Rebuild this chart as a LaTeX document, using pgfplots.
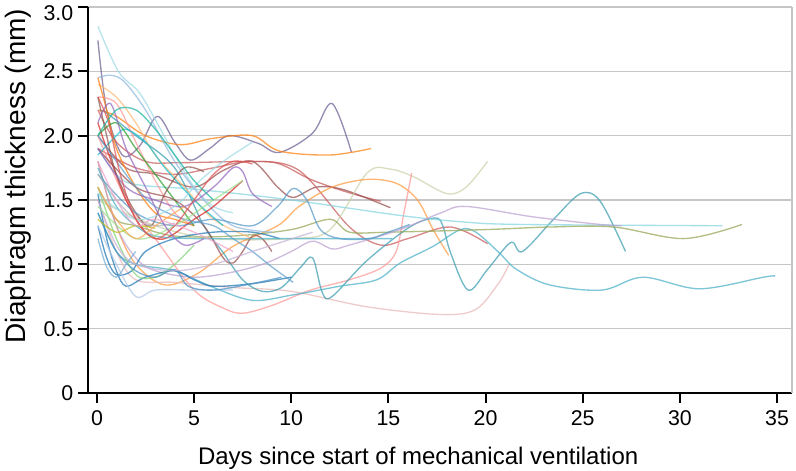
\documentclass[border=0pt]{standalone}
\usepackage{pgfplots}
\pgfplotsset{compat=1.18}
\usetikzlibrary{calc}
\usepackage{fontspec}
\setmainfont{Liberation Sans}
\definecolor{cblue}{HTML}{1F77B4}
\definecolor{corange}{HTML}{FF7F0E}
\definecolor{cgreen}{HTML}{2CA02C}
\definecolor{cred}{HTML}{D62728}
\definecolor{cpurple}{HTML}{9467BD}
\definecolor{cbrown}{HTML}{8C564B}
\definecolor{cpink}{HTML}{E377C2}
\definecolor{cgray}{HTML}{7F7F7F}
\definecolor{colive}{HTML}{BCBD22}
\definecolor{ccyan}{HTML}{17BECF}
\definecolor{lblue}{HTML}{AEC7E8}
\definecolor{lorange}{HTML}{FFBB78}
\definecolor{lgreen}{HTML}{98DF8A}
\definecolor{lred}{HTML}{FF9896}
\definecolor{lpurple}{HTML}{C5B0D5}
\definecolor{lpink}{HTML}{F7B6D2}
\definecolor{lcyan}{HTML}{9EDAE5}
\definecolor{dpurple}{HTML}{6E5F93}
\definecolor{teal1}{HTML}{3A9CB0}
\definecolor{teal2}{HTML}{4BB0C8}
\definecolor{beige}{HTML}{C8D2A8}
\definecolor{oliveg}{HTML}{93A656}
\definecolor{palepink}{HTML}{E8B8B8}
\definecolor{redb}{HTML}{C85A5A}
\definecolor{brownr}{HTML}{9A4E4E}
\begin{document}
\begin{tikzpicture}
\begin{axis}[
  name=ax,
  scale only axis,
  width=528pt, height=289.5pt,
  xmin=-0.46, xmax=35.77, ymin=0, ymax=3.0,
  axis x line*=bottom, axis y line*=left,
  axis line style={line width=1.5pt, black},
  xtick={0,5,...,35},
  ytick={0,0.5,1.0,1.5,2.0,2.5,3.0},
  yticklabels={0,0.5,1.0,1.5,2.0,2.5,\raisebox{-10pt}[0pt][0pt]{3.0}},
  tick align=outside,
  major tick length=7.5pt,
  tick style={line width=1.5pt, black},
  ymajorgrids,
  grid style={gray!45, line width=1.2pt},
  /pgf/number format/assume math mode=true,
  tick label style={font=\fontsize{16}{19}\selectfont},
  xticklabel style={yshift=-2pt},
  xlabel={Days since start of mechanical ventilation},
  ylabel={Diaphragm thickness (mm)},
  xlabel style={font=\fontsize{18}{21}\selectfont, at={(rel axis cs:0.469,0)}, anchor=base, yshift=-53.25pt},
  ylabel style={font=\fontsize{21}{25}\selectfont, at={(rel axis cs:0,0.562)}, anchor=base, yshift=47pt},
  every axis plot/.append style={line width=1pt, opacity=0.72, smooth, tension=0.55, no markers},
  clip=false,
]
% long / distinct trajectories
\addplot[dpurple] coordinates {(0.05,2.74) (0.5,2.2) (1.3,1.85) (2.2,1.92) (3.1,2.15) (4,1.95) (4.8,1.81) (5.8,1.9) (6.8,2.0) (8.3,1.94) (9.4,1.87) (11.1,2.02) (12.1,2.25) (13.1,1.87)};
\addplot[corange] coordinates {(0.1,2.2) (1,2.15) (2.5,2.0) (4.3,1.93) (6,1.98) (8,2.0) (9.4,1.88) (12,1.85) (14.1,1.9)};
\addplot[redb] coordinates {(0.05,2.2) (1,1.95) (2.5,1.8) (4.3,1.79) (8,1.8) (9.4,1.78) (11,1.66) (12.9,1.56) (14.6,1.49)};
\addplot[brownr] coordinates {(0.05,2.0) (1.5,1.75) (3,1.7) (5,1.6) (6.5,1.73) (8,1.8) (9.3,1.6) (10.1,1.52) (11.3,1.6) (12.7,1.58) (15.1,1.44)};
\addplot[redb] coordinates {(0.05,1.9) (2,1.75) (4,1.7) (6,1.75) (8,1.8) (10.4,1.73) (13,1.29) (14.6,1.15) (16,1.2) (18.2,1.29) (20.1,1.16)};
\addplot[beige] coordinates {(0.05,1.5) (3,1.3) (6,1.2) (10,1.2) (12,1.27) (13.9,1.71) (15.1,1.74) (16.3,1.68) (18,1.55) (19,1.6) (20.1,1.8)};
\addplot[corange!80] coordinates {(0.05,1.8) (1,1.3) (2,1.0) (3.5,0.84) (5.2,0.93) (7,1.14) (9.3,1.3) (10.4,1.45) (12.1,1.6) (13.9,1.66) (15.4,1.63) (16.5,1.5) (17.3,1.27) (18.1,1.07)};
\addplot[lred] coordinates {(0.05,2.0) (1.5,1.5) (3,1.2) (5,0.8) (6.5,0.66) (7.5,0.62) (9,0.68) (11,0.8) (13,0.88) (14.6,0.97) (15.4,1.1) (15.8,1.4) (16.2,1.71)};
\addplot[palepink] coordinates {(0.05,1.5) (1,1.1) (2,0.88) (4,0.86) (7,0.82) (10,0.79) (13.9,0.67) (17.7,0.61) (19.5,0.65) (20.7,0.86) (21.2,1.0)};
\addplot[teal1] coordinates {(0.3,2.2) (2,2.0) (4,1.75) (5.5,1.3) (6.5,1.09) (7.5,0.88) (8.5,0.79) (9.5,0.82) (10.5,0.98) (11.1,1.05) (11.6,0.78) (12.1,0.75) (13.9,1.03) (16.1,1.29) (17.4,1.36) (17.8,1.3) (18.2,1.09) (19.1,0.8) (20.1,0.96) (21.3,1.17) (21.9,1.1) (23.5,1.35) (24.9,1.55) (25.9,1.49) (27.2,1.1)};
\addplot[teal2] coordinates {(0.05,1.4) (1,1.1) (2,1.0) (4,0.95) (6,0.82) (8,0.72) (10,0.76) (12.5,0.83) (14.4,0.88) (15.6,1.01) (17.3,1.14) (18.7,1.27) (19.5,1.25) (20.7,1.09) (21.6,0.96) (23.3,0.84) (26,0.8) (28.1,0.9) (31,0.81) (34.3,0.9) (34.9,0.91)};
\addplot[lcyan!80!ccyan] coordinates {(0.05,1.9) (1,1.7) (2,1.62) (5.3,1.58) (10,1.5) (15.6,1.38) (18.8,1.33) (21.8,1.31) (32.2,1.3)};
\addplot[oliveg] coordinates {(0.05,1.6) (1,1.35) (2,1.3) (4,1.22) (7,1.22) (10,1.27) (12,1.35) (13,1.25) (15,1.25) (20,1.27) (23.3,1.29) (26.6,1.29) (30.2,1.2) (33.2,1.31)};
\addplot[lpurple!80!cpurple] coordinates {(0.05,1.8) (1,1.3) (2,1.05) (3,0.95) (5,0.9) (7,0.94) (8.7,1.01) (10,1.1) (11.1,1.18) (12.1,1.12) (13,1.15) (15.6,1.27) (17.7,1.4) (19,1.45) (22.4,1.37) (25.9,1.31) (27,1.3)};
% dense early trajectories
\addplot[lcyan] coordinates {(0.05,2.85) (1.1,2.5) (2.1,2.35) (2.8,2.18) (4,1.85) (5,1.6) (6,1.45) (7,1.4)};
\addplot[lblue!80!cblue] coordinates {(0.05,2.45) (0.7,2.47) (1.4,2.42) (2.5,2.2) (4,1.8) (5.5,1.5) (7,1.3) (9,1.25)};
\addplot[lorange] coordinates {(0.05,2.4) (1,2.3) (2,2.1) (3,1.85) (4.5,1.6) (6,1.35) (8,1.2)};
\addplot[lred] coordinates {(0.05,2.3) (1,2.25) (2,1.95) (3,1.65) (4,1.4) (5,1.3)};
\addplot[corange] coordinates {(0.05,2.45) (0.5,2.2) (1,1.9) (2,1.6) (3,1.4) (4,1.35) (5,1.3)};
\addplot[ccyan] coordinates {(0.05,1.85) (1,2.0) (1.5,2.05) (2.5,1.95) (3.5,1.75) (5,1.5) (6.5,1.3)};
\addplot[cgreen] coordinates {(0.05,2.0) (1,2.1) (2,1.9) (3,1.7) (4,1.5) (5,1.3)};
\addplot[cred] coordinates {(0.05,2.1) (0.5,1.9) (1.5,1.5) (2.5,1.25) (3.5,1.2) (5,1.35) (6,1.45) (7.5,1.65)};
\addplot[cbrown] coordinates {(0.05,2.3) (0.5,2.0) (1,1.7) (2,1.4) (2.8,1.3) (3.5,1.55) (4.5,1.75) (5.5,1.72)};
\addplot[brownr] coordinates {(0.05,1.9) (2,1.6) (4,1.5) (5.5,1.3) (6.5,1.05) (7,1.01) (7.5,1.1) (8,1.22) (8.5,1.2) (9,1.1)};
\addplot[cblue] coordinates {(0.05,1.3) (0.5,1.05) (1,0.92) (1.8,0.95) (2.5,1.1) (4,1.2) (6,1.25) (8,1.25) (9.4,1.2)};
\addplot[cblue] coordinates {(0.05,1.55) (0.5,1.2) (1,0.95) (1.5,0.83) (2.5,0.9) (4,0.95) (5,0.88) (6,0.83) (8,0.85) (10,0.9)};
\addplot[lblue] coordinates {(0.05,1.3) (1,1.0) (2,0.75) (3,0.8) (5,0.8) (7,0.8)};
\addplot[lgreen!80!cgreen] coordinates {(0.05,1.6) (1,1.2) (2,0.92) (3,0.9) (4,1.0) (5,1.15)};
\addplot[cblue!80] coordinates {(0.05,1.4) (1,1.1) (2,0.95) (3,0.9) (4,0.96) (4.7,0.83) (6,0.8) (8,0.85) (9.5,0.9)};
\addplot[teal2] coordinates {(0.05,1.75) (1,1.45) (2,1.3) (3,1.22) (5,1.2) (8,1.2) (11,1.2) (15.2,1.2)};
\addplot[cblue!70] coordinates {(0.05,2.0) (1,1.8) (2,1.6) (3,1.45) (4.5,1.35) (6,1.3) (7,1.2) (8,1.1) (9,0.98) (10.1,0.86)};
\addplot[lpurple] coordinates {(0.05,1.5) (1,1.15) (2,1.0) (4,0.95) (6,1.0) (8,1.1) (11.1,1.25)};
\addplot[cpurple] coordinates {(0.05,1.9) (1.5,1.6) (3,1.5) (4.5,1.45) (6,1.6) (7,1.75) (7.5,1.72) (8,1.55) (9,1.45)};
\addplot[cblue!75] coordinates {(0.05,1.7) (2,1.4) (4,1.3) (6,1.35) (8,1.3) (9.3,1.45) (10.1,1.59) (10.8,1.5) (11.5,1.27) (12.5,1.2) (14,1.2) (15,1.25) (16.1,1.31)};
\addplot[lcyan] coordinates {(0.05,1.55) (2,1.35) (4,1.45) (5.3,1.65) (6.5,1.8) (8,1.95)};
\addplot[lgreen] coordinates {(0.05,1.45) (2,1.2) (4,1.3) (6,1.5) (7.5,1.65)};
\addplot[colive] coordinates {(0.05,1.35) (1,1.25) (2,1.3) (3,1.28)};
\addplot[cgray!60] coordinates {(0.05,1.7) (1,1.5) (2,1.35) (3,1.3) (4,1.32)};
\addplot[corange!70] coordinates {(0.05,1.6) (1,1.35) (2,1.2) (3,1.3) (4.5,1.45)};
\addplot[cpurple] coordinates {(0.05,2.1) (0.7,2.25) (1.5,1.9) (2.5,1.6) (3.5,1.3) (4.5,1.15) (5.5,1.2)};
\addplot[cred!80] coordinates {(0.05,2.3) (0.6,2.1) (1.2,1.7) (2,1.35) (3,1.2) (4,1.3) (5,1.5) (6,1.7) (7,1.8) (8,1.78)};
\addplot[ccyan!70!cgreen] coordinates {(0.05,2.0) (1,2.2) (2,2.2) (3,2.05) (4,1.85) (5,1.65) (6,1.5)};
\addplot[lpink!70!cpink] coordinates {(0.05,1.8) (1,1.5) (2,1.3) (3,1.35) (5,1.25) (7,1.1)};
\addplot[cblue!60] coordinates {(0.05,1.2) (0.5,0.98) (1,0.9) (1.5,1.0) (2,1.1)};
\end{axis}
\draw[gray!45, line width=1.2pt] (ax.south east) -- (ax.north east);
\draw[black, line width=1.5pt] ($(ax.south west)+(-6pt,0)$) -- (ax.south west);
\pgfresetboundingbox
\path ($(ax.south west)+(-66pt,-58.5pt)$) rectangle ($(ax.north east)+(3pt,5.25pt)$);
\end{tikzpicture}
\end{document}
